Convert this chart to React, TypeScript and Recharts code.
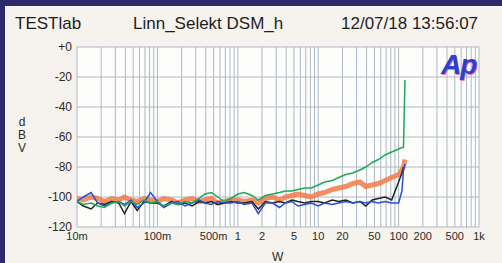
import React from 'react';
import { LineChart, Line, XAxis, YAxis, CartesianGrid } from 'recharts';

// output power sweep (W)
const watts = [
  0.01, 0.012, 0.015, 0.018, 0.022, 0.027, 0.033, 0.039, 0.047, 0.056, 0.068, 0.082,
  0.1, 0.12, 0.15, 0.18, 0.22, 0.27, 0.33, 0.39, 0.47, 0.56, 0.68, 0.82,
  1, 1.2, 1.5, 1.8, 2.2, 2.7, 3.3, 3.9, 4.7, 5.6, 6.8, 8.2,
  10, 12, 15, 18, 22, 27, 33, 39, 47, 56, 68, 82, 100, 110, 115, 120,
];

const greenDb = [
  -103, -105, -104, -106, -107, -104, -103, -106, -103, -105, -102, -104,
  -103, -106, -104, -105, -103, -104, -101, -98, -97, -100, -103, -101,
  -98, -97, -99, -102, -99, -98, -97, -96, -96, -95, -94, -94,
  -92, -90, -89, -87, -85, -84, -82, -80, -77, -75, -72, -70, -68, -67, -67, -22,
];

const orangeDb = [
  -101, -102, -100, -101, -103, -101, -102, -100, -102, -103, -101, -102,
  -103, -101, -102, -104, -102, -101, -103, -102, -101, -104, -103, -102,
  -102, -103, -102, -104, -101, -100, -102, -100, -99, -98, -99, -100,
  -98, -97, -95, -94, -93, -91, -90, -93, -92, -91, -89, -87, -85, -82, -80, -75,
];

const blackDb = [
  -103, -106, -108, -104, -105, -103, -104, -111, -103, -109, -103, -104,
  -104, -106, -103, -105, -104, -106, -103, -104, -103, -105, -104, -103,
  -104, -104, -103, -108, -103, -104, -103, -104, -102, -103, -104, -103,
  -103, -104, -102, -103, -102, -104, -103, -106, -102, -101, -100, -102, -90, -84, -80, null,
];

const blueDb = [
  -103, -100, -97, -104, -106, -104, -103, -105, -102, -107, -104, -97,
  -103, -107, -104, -103, -106, -104, -102, -104, -105, -103, -104, -104,
  -103, -105, -104, -111, -104, -104, -107, -104, -103, -106, -105, -104,
  -106, -104, -105, -104, -103, -104, -103, -104, -103, -104, -103, -104, -104, -96, -82, -78,
];

const xGridTicks = [
  0.01, 0.02, 0.03, 0.04, 0.05, 0.06, 0.07, 0.08, 0.09,
  0.1, 0.2, 0.3, 0.4, 0.5, 0.6, 0.7, 0.8, 0.9,
  1, 2, 3, 4, 5, 6, 7, 8, 9,
  10, 20, 30, 40, 50, 60, 70, 80, 90,
  100, 200, 300, 400, 500, 600, 700, 800, 900,
  1000,
];
const xLabelTicks = [0.01, 0.1, 0.5, 1, 2, 5, 10, 20, 50, 100, 200, 500, 1000];
const xLabelText = ['10m', '100m', '500m', '1', '2', '5', '10', '20', '50', '100', '200', '500', '1k'];
const yTicks = [-120, -100, -80, -60, -40, -20, 0];

const data = watts.map((w, i) => ({
  w,
  green: greenDb[i],
  orange: orangeDb[i],
  black: blackDb[i],
  blue: blueDb[i],
}));

const font = '"Liberation Sans", Arial, Helvetica, sans-serif';

const xFormat = (v: number) => {
  const i = xLabelTicks.indexOf(v);
  return i >= 0 ? xLabelText[i] : '';
};

export default function App() {
  return (
    <div style={{ position: 'absolute', left: 0, top: 0, width: 502, height: 263, background: '#2c2a6c', fontFamily: font }}>
      <div style={{ position: 'absolute', left: 5, top: 6, width: 497, height: 257, background: '#f6f2ed' }} />

      <div style={{ position: 'absolute', left: 15, top: 14, fontSize: 17, color: '#1e1e1e' }}>TESTlab</div>
      <div style={{ position: 'absolute', left: 133, top: 14, fontSize: 17, color: '#1e1e1e' }}>Linn_Selekt DSM_h</div>
      <div style={{ position: 'absolute', left: 341, top: 14, fontSize: 17, color: '#1e1e1e' }}>12/07/18 13:56:07</div>

      <div style={{ position: 'absolute', left: 0, top: 0 }}>
        <LineChart width={502} height={263} data={data} margin={{ top: 47, right: 23, bottom: 6, left: 37 }}>
          <CartesianGrid stroke="#aeb8c4" strokeWidth={1} fill="#fdfdfc" fillOpacity={1} />
          <XAxis
            dataKey="w"
            type="number"
            scale="log"
            domain={[0.01, 1000]}
            allowDataOverflow
            ticks={xGridTicks}
            interval={0}
            tickFormatter={xFormat}
            tickLine={false}
            axisLine={false}
            tickSize={0}
            tickMargin={5}
            height={30}
            tick={{ fill: '#2a2a2a', fontSize: 11, fontFamily: font }}
          />
          <YAxis
            type="number"
            domain={[-120, 0]}
            ticks={yTicks}
            interval={0}
            tickFormatter={(v: number) => (v === 0 ? '+0' : String(v))}
            tickLine={false}
            axisLine={false}
            tickSize={0}
            tickMargin={5}
            width={40}
            tick={{ fill: '#2a2a2a', fontSize: 12, fontFamily: font }}
          />
          <Line dataKey="orange" stroke="#f27a48" strokeOpacity={0.85} strokeWidth={5} dot={false} isAnimationActive={false} />
          <Line dataKey="black" stroke="#222222" strokeWidth={1.5} dot={false} isAnimationActive={false} />
          <Line dataKey="blue" stroke="#2a4fd0" strokeWidth={1.5} dot={false} isAnimationActive={false} />
          <Line dataKey="green" stroke="#1fa85a" strokeWidth={1.5} dot={false} isAnimationActive={false} />
        </LineChart>
      </div>

      <div style={{ position: 'absolute', left: 16, top: 116, width: 12, fontSize: 12, lineHeight: '13px', color: '#2a2a2a', textAlign: 'center' }}>
        d<br />B<br />V
      </div>
      <div style={{ position: 'absolute', left: 272, top: 250, fontSize: 12, color: '#2a2a2a' }}>W</div>
      <div
        style={{
          position: 'absolute',
          left: 441,
          top: 49,
          fontSize: 28,
          fontStyle: 'italic',
          fontWeight: 'bold',
          letterSpacing: -1,
          color: '#2b42cc',
          textShadow: '1px 1px 0 #e27ac2',
        }}
      >
        Ap
      </div>
    </div>
  );
}
